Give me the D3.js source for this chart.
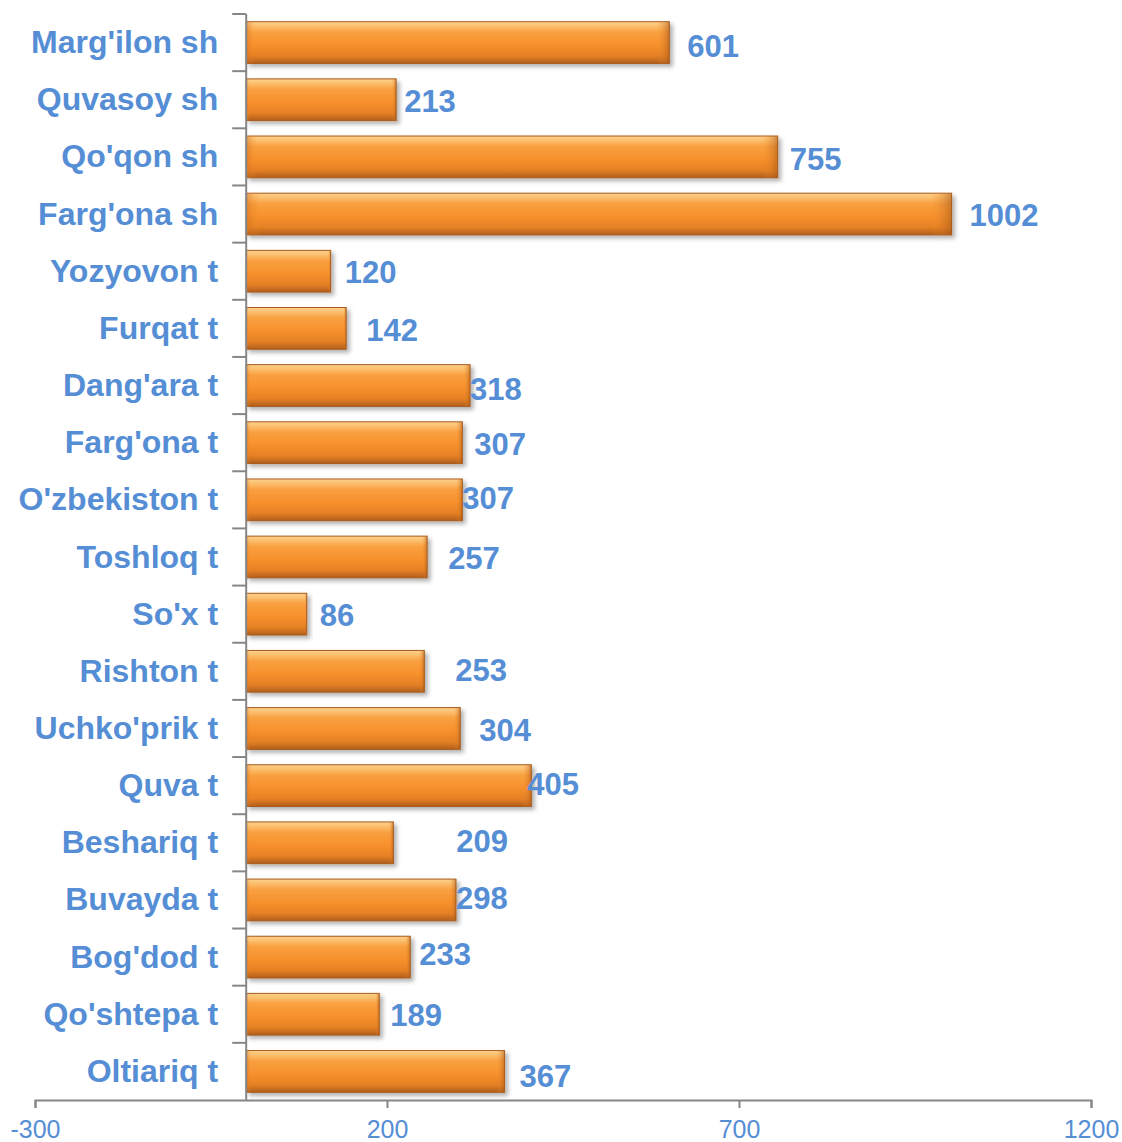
<!DOCTYPE html>
<html>
<head>
<meta charset="utf-8">
<script src="https://cdnjs.cloudflare.com/ajax/libs/d3/7.8.5/d3.min.js"></script>
<style>
  body { margin: 0; background: #fff; }
  .cat { font-family: Arial, "Liberation Sans", sans-serif; font-weight: bold; font-size: 32px; fill: #558ED5; }
  .val { font-family: Arial, "Liberation Sans", sans-serif; font-weight: bold; font-size: 31px; fill: #558ED5; }
  .tick-lbl { font-family: Arial, "Liberation Sans", sans-serif; font-size: 25px; fill: #558ED5; }
</style>
</head>
<body>
<div id="vis"></div>
<script>
var categories = ["Marg'ilon sh", "Quvasoy sh", "Qo'qon sh", "Farg'ona sh", "Yozyovon t", "Furqat t",
    "Dang'ara t", "Farg'ona t", "O'zbekiston t", "Toshloq t", "So'x t", "Rishton t", "Uchko'prik t",
    "Quva t", "Beshariq t", "Buvayda t", "Bog'dod t", "Qo'shtepa t", "Oltiariq t"];
var values = [601, 213, 755, 1002, 120, 142, 318, 307, 307, 257, 86, 253, 304, 405, 209, 298, 233, 189, 367];
var xTicks = [-300, 200, 700, 1200];

// label nudges (px) as placed in the original
var labelDx = [18, 8, 12, 18, 14, 20, 0, 12, 0, 21, 13, 31, 19, -4, 63, 0, 9, 11, 15];
var labelDy = [3, 1, 2, 1, 1, 1, 3, 1, -2, 1, 1, -1, 1, -2, -2, -2, -3, 1, 4];

var width = 1122, height = 1142;
var margin = { top: 14, right: 31, bottom: 42, left: 35 };
var drawWidth = width - margin.left - margin.right;
var drawHeight = height - margin.top - margin.bottom;

var svg = d3.select('#vis').append('svg')
    .attr('width', width)
    .attr('height', height);

var defs = svg.append('defs');
var grad = defs.append('linearGradient')
    .attr('id', 'barGrad')
    .attr('x1', 0).attr('y1', 0).attr('x2', 0).attr('y2', 1);
[['0%', '#FDD28E'], ['10%', '#FCC070'], ['25%', '#F9A040'], ['55%', '#F7912D'], ['82%', '#E58024'], ['100%', '#B05E1C']]
    .forEach(function(s) { grad.append('stop').attr('offset', s[0]).attr('stop-color', s[1]); });

var sideGrad = defs.append('linearGradient')
    .attr('id', 'sideGrad')
    .attr('x1', 0).attr('y1', 0).attr('x2', 1).attr('y2', 0);
sideGrad.append('stop').attr('offset', '0%').attr('stop-color', '#C96A1E').attr('stop-opacity', 0.5);
sideGrad.append('stop').attr('offset', '2%').attr('stop-color', '#F7922F').attr('stop-opacity', 0);
sideGrad.append('stop').attr('offset', '97%').attr('stop-color', '#F7922F').attr('stop-opacity', 0);
sideGrad.append('stop').attr('offset', '100%').attr('stop-color', '#A85A18').attr('stop-opacity', 0.6);

var shadow = defs.append('filter').attr('id', 'shadow')
    .attr('x', '-5%').attr('y', '-20%').attr('width', '115%').attr('height', '160%');
shadow.append('feDropShadow')
    .attr('dx', 3).attr('dy', 3).attr('stdDeviation', 2)
    .attr('flood-color', '#000').attr('flood-opacity', 0.3);

var g = svg.append('g')
    .attr('transform', 'translate(' + margin.left + ',' + margin.top + ')');

var xScale = d3.scaleLinear()
    .domain([-300, 1200])
    .range([0, drawWidth]);

var yScale = d3.scaleBand()
    .domain(categories)
    .range([0, drawHeight])
    .paddingInner(0.27)
    .paddingOuter(0.135);

var bandStep = drawHeight / categories.length;

// bars
var bars = g.selectAll('.bar').data(values).enter().append('g')
    .attr('class', 'bar')
    .attr('filter', 'url(#shadow)');

bars.append('rect')
    .attr('x', xScale(0))
    .attr('y', function(d, i) { return yScale(categories[i]); })
    .attr('width', function(d) { return xScale(d) - xScale(0); })
    .attr('height', yScale.bandwidth())
    .attr('fill', 'url(#barGrad)')
    .attr('stroke', '#A85A1C')
    .attr('stroke-width', 1);

bars.append('rect')
    .attr('x', xScale(0))
    .attr('y', function(d, i) { return yScale(categories[i]); })
    .attr('width', function(d) { return xScale(d) - xScale(0); })
    .attr('height', yScale.bandwidth())
    .attr('fill', 'url(#sideGrad)');

// value labels
g.selectAll('.val').data(values).enter().append('text')
    .attr('class', 'val')
    .attr('x', function(d, i) { return xScale(d) + labelDx[i]; })
    .attr('y', function(d, i) { return yScale(categories[i]) + yScale.bandwidth() / 2 + labelDy[i]; })
    .attr('dy', '0.36em')
    .text(function(d) { return d; });

// y axis line and ticks at band boundaries
g.append('line')
    .attr('x1', xScale(0)).attr('x2', xScale(0))
    .attr('y1', 0).attr('y2', drawHeight)
    .attr('stroke', '#868686').attr('stroke-width', 2);

g.selectAll('.ytick').data(d3.range(categories.length)).enter().append('line')
    .attr('class', 'ytick')
    .attr('x1', xScale(0) - 14).attr('x2', xScale(0))
    .attr('y1', function(i) { return i * bandStep; })
    .attr('y2', function(i) { return i * bandStep; })
    .attr('stroke', '#868686').attr('stroke-width', 2);

// category labels
g.selectAll('.cat').data(categories).enter().append('text')
    .attr('class', 'cat')
    .attr('x', xScale(0) - 28)
    .attr('y', function(d) { return yScale(d) + yScale.bandwidth() / 2 - 1; })
    .attr('dy', '0.36em')
    .attr('text-anchor', 'end')
    .text(function(d) { return d; });

// x axis
var xAxis = d3.axisBottom(xScale)
    .tickValues(xTicks)
    .tickFormat(function(d) { return String(d); })
    .tickSize(8)
    .tickPadding(12);

var xAxisG = g.append('g')
    .attr('transform', 'translate(0,' + drawHeight + ')')
    .call(xAxis);
xAxisG.select('.domain').attr('stroke', '#868686').attr('stroke-width', 2);
xAxisG.selectAll('.tick line').attr('stroke', '#868686').attr('stroke-width', 2);
xAxisG.selectAll('.tick text')
    .attr('class', 'tick-lbl')
    .attr('font-family', null).attr('font-size', null).attr('fill', null);
</script>
</body>
</html>
